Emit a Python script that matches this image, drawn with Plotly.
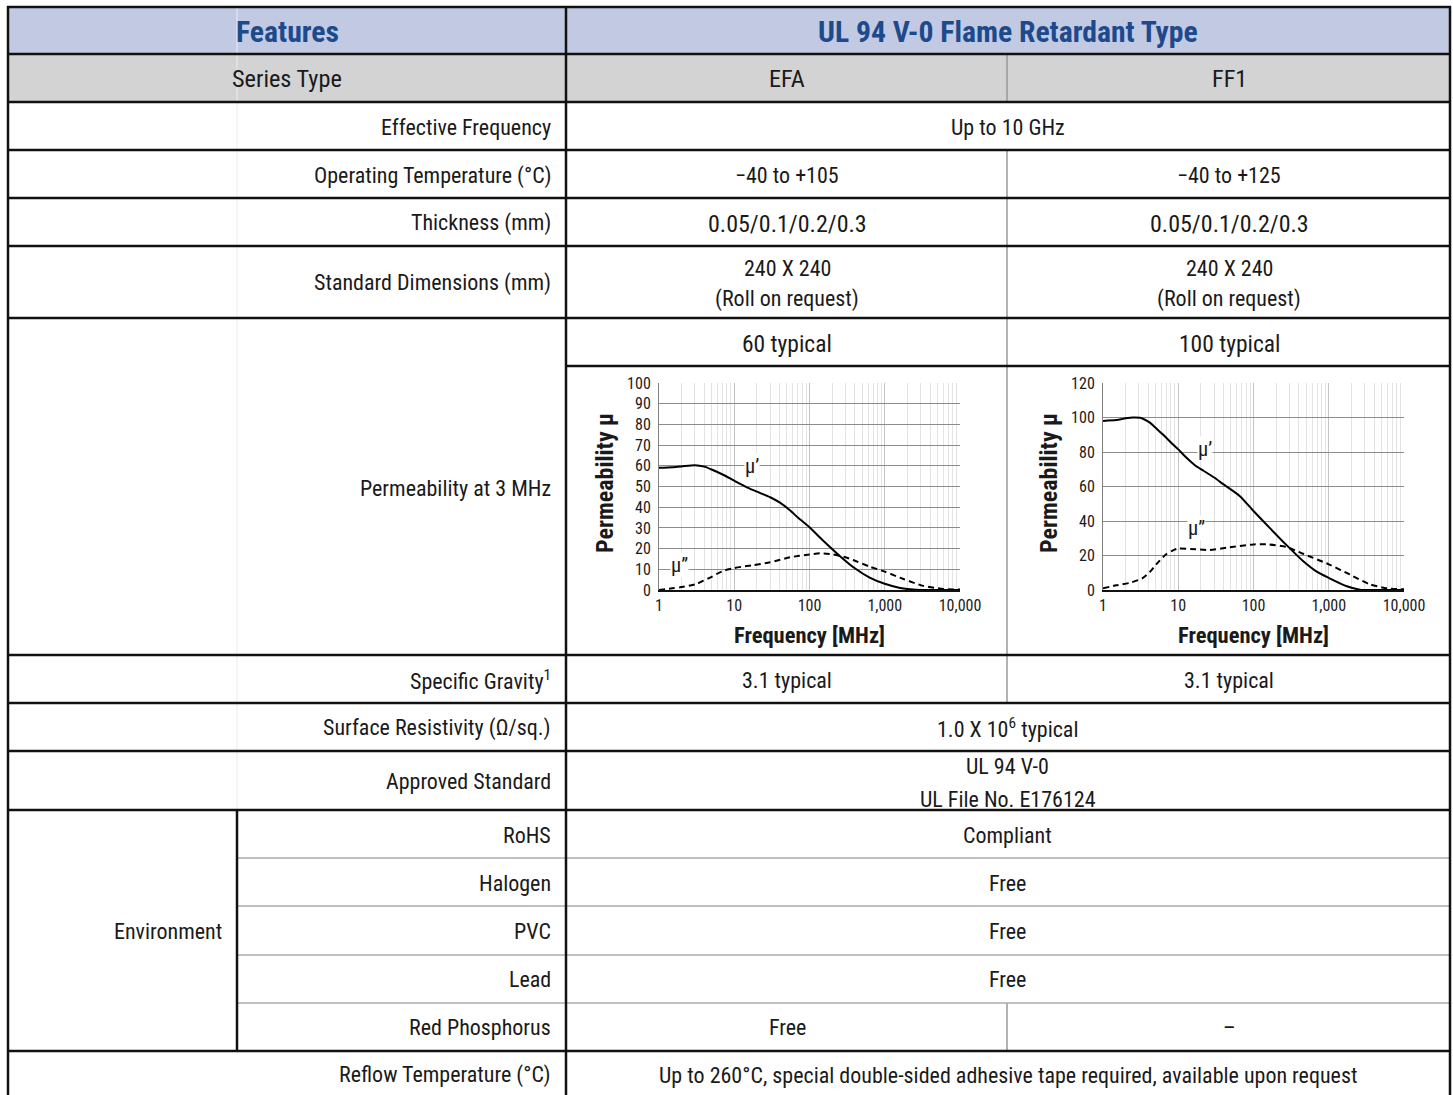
import math
import plotly.graph_objects as go

# ---------------- data ----------------
header_features = "Features"
header_type = "UL 94 V-0 Flame Retardant Type"
series_label = "Series Type"
series_names = ["EFA", "FF1"]

row_labels = [
    "Effective Frequency",
    "Operating Temperature (°C)",
    "Thickness (mm)",
    "Standard Dimensions (mm)",
    "Permeability at 3 MHz",
    "Specific Gravity<sup>1</sup>",
    "Surface Resistivity (Ω/sq.)",
    "Approved Standard",
    "Reflow Temperature (°C)",
]
effective_freq = "Up to 10 GHz"
op_temp = ["−40 to +105", "−40 to +125"]
thickness = ["0.05/0.1/0.2/0.3", "0.05/0.1/0.2/0.3"]
dimensions = ["240 X 240", "(Roll on request)"]
perm_typ = ["60 typical", "100 typical"]
spec_gravity = ["3.1 typical", "3.1 typical"]
surface_res = "1.0 X 10<sup>6</sup> typical"
approved = ["UL 94 V-0", "UL File No. E176124"]
env_label = "Environment"
env_items = ["RoHS", "Halogen", "PVC", "Lead", "Red Phosphorus"]
env_values = ["Compliant", "Free", "Free", "Free"]
red_phos = ["Free", "–"]
reflow = "Up to 260°C, special double-sided adhesive tape required, available upon request"

x_tick_vals = [1, 10, 100, 1000, 10000]
x_tick_text = ["1", "10", "100", "1,000", "10,000"]
x_title = "Frequency [MHz]"
y_title = "Permeability μ"
mu1_label = "μ’"
mu2_label = "μ”"

efa_f1 = [1, 1.5, 2, 3, 4, 5, 7, 10, 15, 20, 30, 40, 55, 70, 100, 150, 250, 400, 630, 1000, 1600, 2600, 4000, 10000]
efa_mu1 = [59, 59.3, 59.7, 60.3, 59.6, 58.2, 55.8, 52.8, 49.5, 47.5, 44.8, 42.3, 38.5, 35, 30.3, 24, 16.6, 10.5, 6, 3, 1, 0.1, 0, 0]
efa_f2 = [1, 1.5, 1.9, 2.6, 3.2, 3.9, 5, 5.8, 7.5, 10, 14, 18, 30, 55, 100, 137, 205, 300, 380, 630, 1000, 1770, 3240, 6000, 10000]
efa_mu2 = [0, 0.8, 1.3, 2.2, 3, 4.5, 6.3, 7.7, 9.5, 10.6, 11.5, 12, 13.4, 15.8, 17.2, 17.7, 17.2, 15.8, 14.5, 11.3, 8.9, 5.3, 2, 0.5, 0.2]

ff1_f1 = [1, 1.5, 2, 2.5, 3.1, 3.5, 4.2, 5, 6.3, 8, 10, 12, 14, 17, 21, 30, 40, 66, 100, 164, 275, 455, 700, 1000, 1700, 2600, 4000, 10000]
ff1_mu1 = [98, 98.5, 99.5, 100, 99.8, 99, 97, 94, 90, 85.5, 81.5, 78, 75.2, 72, 69.5, 65.2, 61.2, 54.4, 45.8, 36, 26, 16.8, 10.5, 7, 2.3, 0.2, 0, 0]
ff1_f2 = [1, 1.5, 2.3, 3.4, 4.2, 5.1, 6.9, 8.5, 10, 17, 26, 44, 100, 148, 275, 455, 1000, 1900, 3500, 5900, 10000]
ff1_mu2 = [1, 2.7, 4.2, 7, 10.5, 14.9, 20.7, 23, 24, 23.6, 23.2, 24.5, 26.4, 26.5, 24.9, 21, 14.9, 9, 3.3, 1, 0.4]

# ---------------- layout helpers ----------------
W, H = 1453, 1095
FONT = "Roboto Condensed, Liberation Sans Narrow, DejaVu Sans Condensed, Roboto, sans-serif"
TXT = "#1a1a1a"
BLUE = "#1d4a8c"
BODY = 22


def px(x):
    return x / W


def py(y):
    return 1 - y / H


shapes = []
annotations = []


def rect(x0, y0, x1, y1, fill):
    shapes.append(dict(type="rect", xref="paper", yref="paper", x0=px(x0), x1=px(x1),
                       y0=py(y1), y1=py(y0), fillcolor=fill, line=dict(width=0), layer="below"))


def hline(y, x0, x1, color="#111111", w=2.5):
    shapes.append(dict(type="line", xref="paper", yref="paper", x0=px(x0), x1=px(x1),
                       y0=py(y), y1=py(y), line=dict(color=color, width=w)))


def vline(x, y0, y1, color="#111111", w=2.5):
    shapes.append(dict(type="line", xref="paper", yref="paper", x0=px(x), x1=px(x),
                       y0=py(y0), y1=py(y1), line=dict(color=color, width=w)))


def text(x, y, s, anchor="center", size=BODY, color=TXT, bold=False, angle=0):
    annotations.append(dict(xref="paper", yref="paper", x=px(x), y=py(y), text=s,
                            showarrow=False, xanchor=anchor, yanchor="middle", textangle=angle,
                            font=dict(family=FONT, size=size, color=color,
                                      weight="bold" if bold else "normal")))


XL, XE, XM, XD, XR = 8, 237, 566, 1007, 1450
XLAB = 553
C_ALL, C_EFA, C_FF1 = 1008, 787, 1229

# backgrounds
rect(XL, 7, XR, 54, "#c2c9e2")
rect(XL, 54, XR, 102, "#d3d3d3")

# faint column line
vline(XE, 7, 810, color="#ececec", w=1)
# gray dividers between EFA / FF1
vline(XD, 54, 102, color="#999999", w=1.5)
vline(XD, 150, 703, color="#999999", w=1.5)
vline(XD, 1003, 1051, color="#999999", w=1.5)
# environment sub-row lines
for yy in [858, 906, 955, 1003]:
    hline(yy, XE, XR, color="#ababab", w=1.5)
# thick lines
for yy in [7, 54, 102, 150, 198, 246, 318, 655, 703, 751, 810, 1051]:
    hline(yy, XL - 1, XR + 1)
hline(366, XM, XR + 1)
vline(XL, 6, H + 5)
vline(XM, 6, H + 5)
vline(XR, 6, H + 5)
vline(XE, 810, 1051)

# texts
text(287, 32, header_features, size=29.7, color=BLUE, bold=True)
text(C_ALL, 32, header_type, size=29.7, color=BLUE, bold=True)
text(287, 79, series_label, size=24.3)
text(C_EFA, 79, series_names[0], size=24.3)
text(C_FF1, 79, series_names[1], size=24.3)

text(XLAB, 127, row_labels[0], "right")
text(C_ALL, 127, effective_freq)
text(XLAB, 176, row_labels[1], "right")
text(C_EFA, 176, op_temp[0])
text(C_FF1, 176, op_temp[1])
text(XLAB, 223, row_labels[2], "right")
text(C_EFA, 224, thickness[0], size=24)
text(C_FF1, 224, thickness[1], size=24)
text(XLAB, 283, row_labels[3], "right")
for cx in (C_EFA, C_FF1):
    text(cx, 268, dimensions[0])
    text(cx, 299, dimensions[1])
text(XLAB, 488, row_labels[4], "right")
text(C_EFA, 344, perm_typ[0], size=23.5)
text(C_FF1, 344, perm_typ[1], size=23.5)
text(XLAB, 680, row_labels[5], "right")
text(C_EFA, 680, spec_gravity[0])
text(C_FF1, 680, spec_gravity[1])
text(XLAB, 728, row_labels[6], "right")
text(C_ALL, 728, surface_res)
text(XLAB, 781, row_labels[7], "right")
text(C_ALL, 766, approved[0])
text(C_ALL, 799, approved[1])
text(224, 931, env_label, "right")
env_y = [835, 883, 931, 979, 1027]
for i, lab in enumerate(env_items):
    text(XLAB, env_y[i], lab, "right")
for i, v in enumerate(env_values):
    text(C_ALL, env_y[i], v)
text(C_EFA, env_y[4], red_phos[0])
text(C_FF1, env_y[4], red_phos[1])
text(XLAB, 1075, row_labels[8], "right")
text(C_ALL, 1075, reflow)

# ---------------- charts ----------------
fig = go.Figure()
line_solid = dict(color="black", width=2, shape="spline", smoothing=0.6)
line_dash = dict(color="black", width=2, shape="spline", smoothing=0.6, dash="6px,4px")
fig.add_trace(go.Scatter(x=efa_f1, y=efa_mu1, mode="lines", line=line_solid, xaxis="x", yaxis="y"))
fig.add_trace(go.Scatter(x=efa_f2, y=efa_mu2, mode="lines", line=line_dash, xaxis="x", yaxis="y"))
fig.add_trace(go.Scatter(x=ff1_f1, y=ff1_mu1, mode="lines", line=line_solid, xaxis="x2", yaxis="y2"))
fig.add_trace(go.Scatter(x=ff1_f2, y=ff1_mu2, mode="lines", line=line_dash, xaxis="x2", yaxis="y2"))

minor_vals = [m * 10 ** d for d in range(4) for m in range(2, 10)]
tickfont = dict(family=FONT, size=16, color=TXT)


def xaxis(x0, x1, anchor):
    return dict(domain=[px(x0), px(x1)], anchor=anchor, type="log", range=[0, 4],
                tickvals=x_tick_vals, ticktext=x_tick_text, tickfont=tickfont,
                showgrid=True, gridcolor="#c4c4c4", gridwidth=1,
                minor=dict(tickvals=minor_vals, showgrid=True, gridcolor="#e3e3e3", gridwidth=1, ticks=""),
                showline=True, linecolor="#111111", linewidth=1.5, ticks="", zeroline=False,
                automargin=False, fixedrange=True)


def yaxis(ymax, dt, anchor):
    return dict(domain=[py(590), py(383)], anchor=anchor, range=[0, ymax], dtick=dt,
                tickfont=tickfont, showgrid=True, gridcolor="#8c8c8c", gridwidth=1,
                showline=True, linecolor="#808080", linewidth=1, ticks="", zeroline=False,
                ticklabelstandoff=4, automargin=False, fixedrange=True)


# chart titles
text(605, 483, y_title, size=24, bold=True, angle=-90)
text(1049, 483, y_title, size=24, bold=True, angle=-90)
text(809, 635, x_title, size=22.5, bold=True)
text(1253, 635, x_title, size=22.5, bold=True)

# curve labels
curve_labels = [
    ("x", "y", 17, 60, mu1_label),
    ("x", "y", 1.9, 12, mu2_label),
    ("x2", "y2", 23, 82, mu1_label),
    ("x2", "y2", 17.4, 36, mu2_label),
]
for xr, yr, fx, fy, s in curve_labels:
    annotations.append(dict(xref=xr, yref=yr, x=math.log10(fx), y=fy, text=s, showarrow=False,
                            bgcolor="white", borderpad=0,
                            font=dict(family=FONT, size=20.5, color=TXT)))

fig.update_layout(
    width=W, height=H, autosize=False,
    margin=dict(l=0, r=0, t=0, b=0, pad=0, autoexpand=False),
    paper_bgcolor="white", plot_bgcolor="white", showlegend=False,
    xaxis=xaxis(659, 960, "y"), yaxis=yaxis(100, 10, "x"),
    xaxis2=xaxis(1103, 1404, "y2"), yaxis2=yaxis(120, 20, "x2"),
    shapes=shapes, annotations=annotations,
)

fig.write_html("out.html", config={"displayModeBar": False},
               post_script="document.body.style.margin='0';document.body.style.overflow='hidden';")
